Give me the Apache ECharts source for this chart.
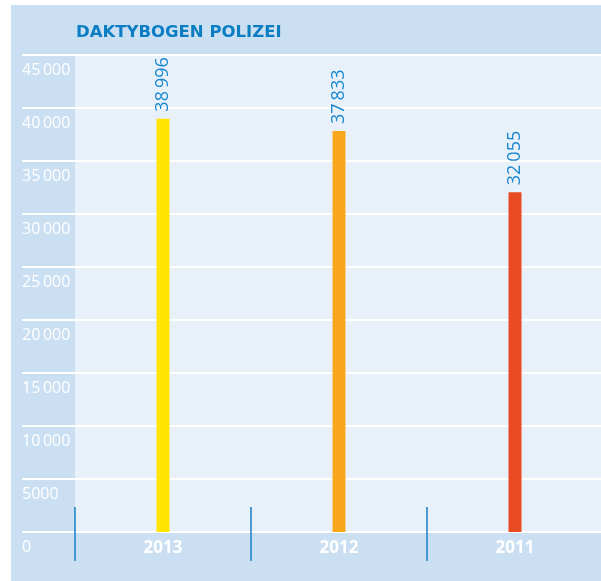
<!DOCTYPE html>
<html>
<head>
<meta charset="utf-8">
<script src="https://cdn.jsdelivr.net/npm/echarts@6.0.0/dist/echarts.min.js"></script>
<style>
  html, body { margin: 0; padding: 0; background: #fff; overflow: hidden; }
  /* a little wider than the window so the last category tick falls outside */
  #daktyChart {
    position: absolute;
    left: 11px;
    top: 5px;
    width: 592px;
    height: 576px;
  }
</style>
</head>
<body>
<div id="daktyChart"></div>
<script>
var years = ['2013', '2012', '2011'];
var counts = [38996, 37833, 32055];
var barColors = ['#ffe500', '#f9a81e', '#e84b23'];
var yMin = 0;
var yMax = 45000;
var yStep = 5000;

// 45 000 style, but 5000 stays without the gap
function fmt(v) {
  var s = String(v);
  if (v >= 10000) {
    return s.slice(0, -3) + '\u2009' + s.slice(-3);
  }
  return s;
}

var myChart = echarts.init(document.getElementById('daktyChart'));
var option = {
  backgroundColor: '#cadff2',
  animation: false,
  textStyle: { fontFamily: 'Open Sans' },
  title: {
    text: 'DAKTYBOGEN POLIZEI',
    left: 65,
    top: 19,
    padding: 0,
    textStyle: {
      color: '#0a7dc3',
      fontSize: 16.5,
      fontWeight: 'bold',
      fontFamily: 'DejaVu Sans'
    }
  },
  grid: [
    { left: 11, right: 0, top: 50, bottom: 49 },
    { left: 64, right: 0, top: 50, bottom: 49, show: true, backgroundColor: '#e8f1f9', borderWidth: 0, z: -1 }
  ],
  xAxis: [
    { gridIndex: 0, type: 'value', show: false },
    {
      gridIndex: 1,
      type: 'category',
      position: 'bottom',
      data: years,
      axisLine: { show: false },
      axisTick: { show: true, inside: true, length: 25, lineStyle: { color: '#1b7fc3', width: 1.5 } },
      axisLabel: { show: false }
    },
    {
      gridIndex: 1,
      type: 'category',
      position: 'bottom',
      offset: 0,
      data: years,
      axisLine: { show: false },
      axisTick: { show: true, length: 29, lineStyle: { color: '#1b7fc3', width: 1.5 } },
      axisLabel: { color: '#fff', fontWeight: 'bold', fontSize: 17, margin: 8 }
    }
  ],
  yAxis: [
    {
      gridIndex: 0,
      type: 'value',
      min: yMin,
      max: yMax,
      interval: yStep,
      axisLine: { show: false },
      axisTick: { show: false },
      splitLine: { lineStyle: { color: '#fff', width: 2 } },
      axisLabel: {
        inside: true,
        margin: 0,
        align: 'left',
        verticalAlign: 'top',
        padding: [7, 0, 0, 0],
        color: '#fff',
        fontSize: 16,
        formatter: fmt
      }
    },
    { gridIndex: 1, type: 'value', min: yMin, max: yMax, show: false }
  ],
  series: [
    {
      name: 'Daktybogen',
      type: 'bar',
      xAxisIndex: 2,
      yAxisIndex: 1,
      barWidth: 13,
      data: counts.map(function (v, i) {
        return { value: v, itemStyle: { color: barColors[i] } };
      }),
      label: {
        show: true,
        position: 'top',
        rotate: 90,
        align: 'left',
        verticalAlign: 'middle',
        distance: 7,
        color: '#1a88cf',
        fontSize: 18,
        formatter: function (p) { return fmt(p.value); }
      }
    }
  ]
};
myChart.setOption(option);
</script>
</body>
</html>
